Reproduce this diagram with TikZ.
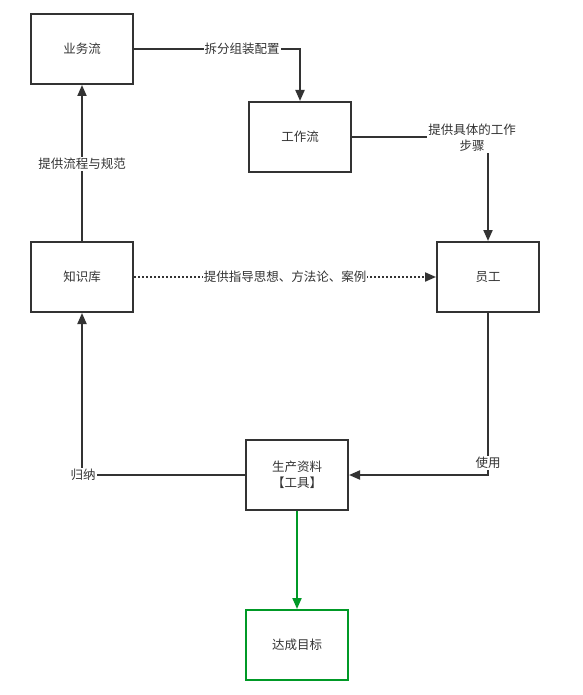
\documentclass[tikz,border=0pt]{standalone}
\usepackage{fontspec}
\newfontfamily\cjk{Noto Sans CJK SC}
\usetikzlibrary{arrows.meta}
\definecolor{ink}{HTML}{333333}
\definecolor{okgreen}{HTML}{009926}
\tikzset{
  box/.style={draw=ink, line width=2pt, rectangle, minimum width=102pt, minimum height=70pt, inner sep=0pt, align=center, text=ink, font=\cjk\fontsize{12.5}{16}\selectfont},
  lbl/.style={fill=white, inner sep=1pt, align=center, text=ink, font=\cjk\fontsize{12.5}{16}\selectfont},
  conn/.style={draw=ink, line width=2pt, -{Triangle[length=11pt,width=9pt]}},
}
\begin{document}
\begin{tikzpicture}[x=1pt,y=-1pt]
\useasboundingbox (0,0) rectangle (582,695);
\node[box] (biz) at (82,49) {业务流};
\node[box] (work) at (300,137) {工作流};
\node[box] (kb) at (82,277) {知识库};
\node[box] (emp) at (488,277) {员工};
\node[box] (prod) at (297,475) {生产资料\\【工具】};
\node[box, draw=okgreen] (goal) at (297,645) {达成目标};

% business -> work
\draw[conn] (biz.east) -| (work.north);
\node[lbl] (l1) at (242,49) {拆分组装配置};
% work -> employee
\draw[conn] (work.east) -| (emp.north);
\node[lbl] (l2) at (472,138) {提供具体的工作\\步骤};
% kb -> business
\draw[conn] (kb.north) -- (biz.south);
\node[lbl] (l3) at (82,164) {提供流程与规范};
% kb -> employee dotted
\draw[conn, dotted] (kb.east) -- (emp.west);
\node[lbl] (l4) at (285,277) {提供指导思想、方法论、案例};
% employee -> production
\draw[conn] (emp.south) |- (prod.east);
\node[lbl] (l5) at (488,463) {使用};
% production -> kb
\draw[conn] (prod.west) -| (kb.south);
\node[lbl] (l6) at (83,475) {归纳};
% production -> goal
\draw[conn, draw=okgreen, fill=okgreen] (prod.south) -- (goal.north);
\end{tikzpicture}
\end{document}
